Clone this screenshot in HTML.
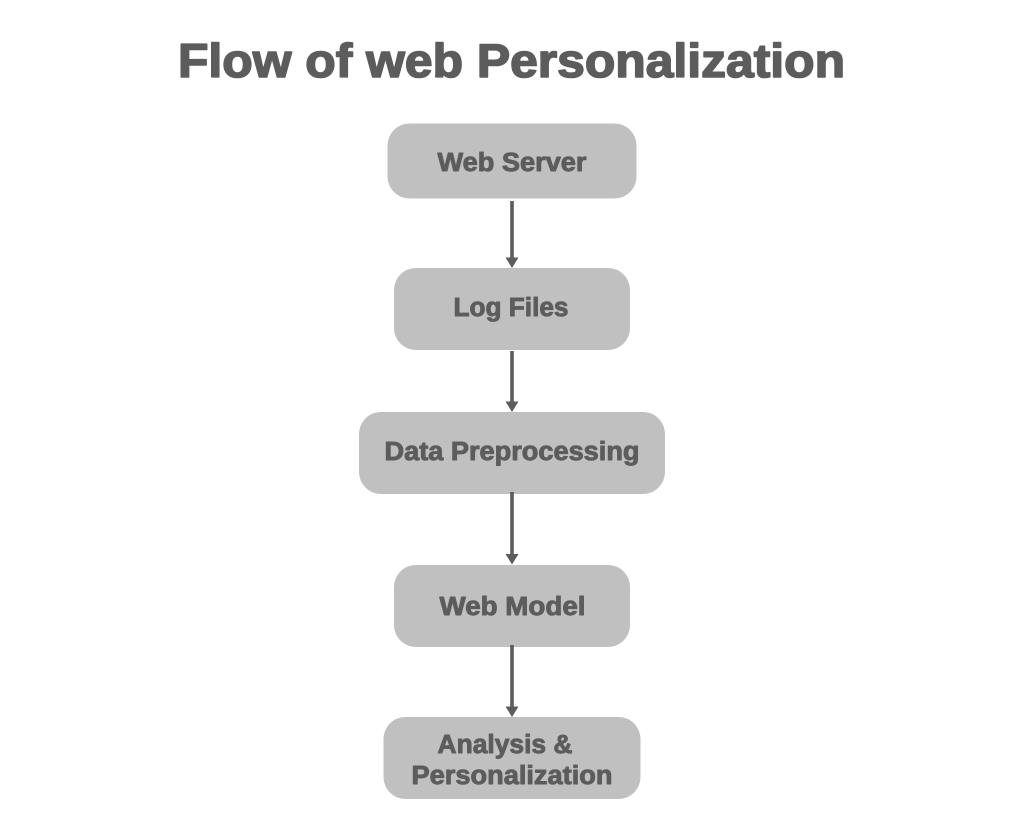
<!DOCTYPE html>
<html>
<head>
<meta charset="utf-8">
<style>
html,body{margin:0;padding:0;background:#fff;width:1024px;height:837px;overflow:hidden}
svg{display:block}
text{font-family:"Liberation Sans",sans-serif;font-weight:700;fill:#5c5c5c;stroke:#5c5c5c;stroke-linejoin:round}
.l{font-size:25.500px;stroke-width:.9px}
</style>
</head>
<body>
<svg width="1024" height="837" viewBox="0 0 1024 837" xmlns="http://www.w3.org/2000/svg">
<rect width="1024" height="837" fill="#fff"/>
<text x="178" y="77" font-size="47" style="stroke-width:1.6px" textLength="667" lengthAdjust="spacingAndGlyphs">Flow of web Personalization</text>

<g fill="#c0c0c0">
<rect x="387.5" y="123.5" width="249" height="75" rx="22"/>
<rect x="394" y="268" width="236" height="82" rx="22"/>
<rect x="359" y="412" width="306" height="82" rx="22"/>
<rect x="394" y="565" width="236" height="82" rx="22"/>
<rect x="383.5" y="717" width="257" height="82" rx="22"/>
</g>

<g fill="#5c5c5c">
<rect x="510.2" y="201" width="3.6" height="58"/>
<polygon points="505.500,257.500 518.500,257.500 512,268"/>
<rect x="510.2" y="351" width="3.6" height="52"/>
<polygon points="505.500,401.500 518.500,401.500 512,412"/>
<rect x="510.2" y="492" width="3.6" height="64"/>
<polygon points="505.500,554 518.500,554 512,564.500"/>
<rect x="510.2" y="645" width="3.6" height="63"/>
<polygon points="505.500,706.500 518.500,706.500 512,717"/>
</g>

<text class="l" x="437.500" y="171" textLength="149" lengthAdjust="spacingAndGlyphs">Web Server</text>
<text class="l" x="453.500" y="316" textLength="115" lengthAdjust="spacingAndGlyphs">Log Files</text>
<text class="l" x="384.500" y="460" textLength="255" lengthAdjust="spacingAndGlyphs">Data Preprocessing</text>
<text class="l" x="439.500" y="615" textLength="146" lengthAdjust="spacingAndGlyphs">Web Model</text>
<text class="l" x="437.500" y="753" textLength="135" lengthAdjust="spacingAndGlyphs">Analysis &amp;</text>
<text class="l" x="411.500" y="784" textLength="201" lengthAdjust="spacingAndGlyphs">Personalization</text>
</svg>
</body>
</html>
